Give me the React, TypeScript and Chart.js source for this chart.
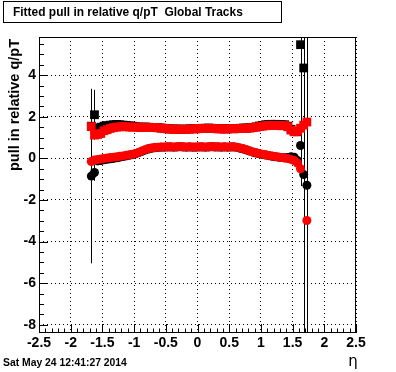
import { useEffect, useRef } from 'react';
import { Chart, registerables } from 'chart.js';

Chart.register(...registerables);

// ---- data ----
const ETA = [
  -1.675, -1.625, -1.575, -1.525, -1.475, -1.425, -1.375, -1.325, -1.275, -1.225,
  -1.175, -1.125, -1.075, -1.025, -0.975, -0.925, -0.875, -0.825, -0.775, -0.725,
  -0.675, -0.625, -0.575, -0.525, -0.475, -0.425, -0.375, -0.325, -0.275, -0.225,
  -0.175, -0.125, -0.075, -0.025, 0.025, 0.075, 0.125, 0.175, 0.225, 0.275,
  0.325, 0.375, 0.425, 0.475, 0.525, 0.575, 0.625, 0.675, 0.725, 0.775,
  0.825, 0.875, 0.925, 0.975, 1.025, 1.075, 1.125, 1.175, 1.225, 1.275,
  1.325, 1.375, 1.425, 1.475, 1.525, 1.575, 1.625, 1.675, 1.725,
];

const BLACK_SIGMA = [
  1.55, 2.1, 1.45, 1.5, 1.55, 1.58, 1.6, 1.62, 1.63, 1.62,
  1.6, 1.59, 1.57, 1.55, 1.53, 1.51, 1.5, 1.51, 1.5, 1.49,
  1.49, 1.48, 1.46, 1.45, 1.43, 1.42, 1.41, 1.41, 1.41, 1.4,
  1.41, 1.42, 1.43, 1.43, 1.44, 1.45, 1.45, 1.46, 1.45, 1.44,
  1.43, 1.43, 1.42, 1.43, 1.44, 1.43, 1.44, 1.45, 1.46, 1.46,
  1.47, 1.49, 1.52, 1.56, 1.59, 1.62, 1.63, 1.64, 1.64, 1.63,
  1.62, 1.62, 1.55, 1.4, 1.3, 1.28, 5.47, 4.35, null,
];
const BLACK_SIGMA_ERR = [
  0.05, 1.2, 0.05, 0.04, 0.03, 0.03, 0.03, 0.03, 0.03, 0.03,
  0.03, 0.03, 0.03, 0.03, 0.03, 0.03, 0.03, 0.03, 0.03, 0.03,
  0.03, 0.03, 0.03, 0.03, 0.03, 0.03, 0.03, 0.03, 0.03, 0.03,
  0.03, 0.03, 0.03, 0.03, 0.03, 0.03, 0.03, 0.03, 0.03, 0.03,
  0.03, 0.03, 0.03, 0.03, 0.03, 0.03, 0.03, 0.03, 0.03, 0.03,
  0.03, 0.03, 0.03, 0.03, 0.03, 0.03, 0.03, 0.03, 0.03, 0.03,
  0.03, 0.03, 0.03, 0.04, 0.05, 0.08, 6.8, 15, 0,
];
const BLACK_MEAN = [
  -0.85, -0.68, -0.12, -0.1, -0.07, -0.04, -0.02, 0.0, 0.03, 0.06,
  0.09, 0.12, 0.15, 0.18, 0.22, 0.28, 0.34, 0.4, 0.45, 0.49,
  0.51, 0.53, 0.54, 0.54, 0.55, 0.55, 0.54, 0.55, 0.56, 0.55,
  0.54, 0.55, 0.54, 0.54, 0.55, 0.55, 0.54, 0.55, 0.56, 0.55,
  0.55, 0.54, 0.55, 0.54, 0.55, 0.55, 0.53, 0.49, 0.45, 0.4,
  0.35, 0.3, 0.26, 0.22, 0.19, 0.16, 0.13, 0.1, 0.08, 0.06,
  0.04, 0.03, 0.04, 0.08, 0.06, -0.1, 0.62, -0.78, -1.29,
];
const BLACK_MEAN_ERR = [
  4.2, 0.4, 0.05, 0.04, 0.03, 0.03, 0.03, 0.03, 0.03, 0.03,
  0.03, 0.03, 0.03, 0.03, 0.03, 0.03, 0.03, 0.03, 0.03, 0.03,
  0.03, 0.03, 0.03, 0.03, 0.03, 0.03, 0.03, 0.03, 0.03, 0.03,
  0.03, 0.03, 0.03, 0.03, 0.03, 0.03, 0.03, 0.03, 0.03, 0.03,
  0.03, 0.03, 0.03, 0.03, 0.03, 0.03, 0.03, 0.03, 0.03, 0.03,
  0.03, 0.03, 0.03, 0.03, 0.03, 0.03, 0.03, 0.03, 0.03, 0.03,
  0.03, 0.03, 0.03, 0.04, 0.05, 0.08, 0.3, 0.5, 15,
];
const RED_SIGMA = [
  1.53, 1.12, 1.15, 1.2, 1.33, 1.38, 1.44, 1.48, 1.5, 1.52,
  1.53, 1.52, 1.51, 1.5, 1.51, 1.5, 1.49, 1.5, 1.49, 1.48,
  1.48, 1.47, 1.46, 1.44, 1.42, 1.41, 1.4, 1.41, 1.4, 1.39,
  1.4, 1.41, 1.42, 1.42, 1.43, 1.44, 1.44, 1.45, 1.44, 1.43,
  1.42, 1.42, 1.41, 1.42, 1.43, 1.42, 1.43, 1.44, 1.45, 1.45,
  1.46, 1.48, 1.5, 1.53, 1.55, 1.57, 1.58, 1.59, 1.58, 1.58,
  1.57, 1.58, 1.52, 1.36, 1.28, 1.3, 1.45, 1.6, 1.75,
];
const RED_MEAN = [
  -0.15, -0.08, -0.05, -0.03, 0.0, 0.02, 0.04, 0.06, 0.08, 0.1,
  0.12, 0.15, 0.17, 0.2, 0.24, 0.3, 0.36, 0.42, 0.47, 0.5,
  0.52, 0.54, 0.55, 0.55, 0.56, 0.56, 0.55, 0.56, 0.57, 0.56,
  0.55, 0.56, 0.55, 0.55, 0.56, 0.56, 0.55, 0.56, 0.57, 0.56,
  0.56, 0.55, 0.56, 0.55, 0.56, 0.56, 0.54, 0.5, 0.46, 0.41,
  0.36, 0.31, 0.27, 0.23, 0.2, 0.17, 0.14, 0.12, 0.09, 0.07,
  0.04, 0.02, -0.01, -0.05, -0.1, -0.22, -0.5, null, -2.99,
];

const X_MIN = -2.5;
const X_MAX = 2.5;
const Y_MIN = -8.4;
const Y_MAX = 5.84;

const TITLE = 'Fitted pull in relative q/pT  Global Tracks';
const Y_TITLE = 'pull in relative q/pT';
const X_TITLE = 'η';
const DATE = 'Sat May 24 12:41:27 2014';

const FONT = '"Liberation Sans", Arial, Helvetica, sans-serif';

function points(vals: (number | null)[], errs?: number[]) {
  const out: any[] = [];
  ETA.forEach((x, i) => {
    const y = vals[i];
    if (y === null || y === undefined) return;
    out.push({ x, y, err: errs ? errs[i] : 0 });
  });
  return out;
}

function fitFont(ctx: CanvasRenderingContext2D, text: string, width: number, weight: string) {
  ctx.font = `${weight} 20px ${FONT}`;
  const w = ctx.measureText(text).width;
  const s = (20 * width) / w;
  return `${weight} ${s.toFixed(2)}px ${FONT}`;
}

const fmt = (v: any) => String(Math.round(Number(v) * 10) / 10);

const rootPlugin = {
  id: 'rootStyle',
  beforeDraw(chart: any) {
    const ctx = chart.ctx;
    ctx.save();
    ctx.fillStyle = '#ffffff';
    ctx.fillRect(0, 0, chart.width, chart.height);
    ctx.restore();
  },
  beforeDatasetsDraw(chart: any) {
    const ctx = chart.ctx;
    const a = chart.chartArea;
    const xs = chart.scales.x;
    const ys = chart.scales.y;
    ctx.save();
    ctx.beginPath();
    ctx.rect(a.left, a.top, a.right - a.left, a.bottom - a.top);
    ctx.clip();
    ctx.lineWidth = 1;
    chart.data.datasets.forEach((ds: any) => {
      ctx.strokeStyle = ds.backgroundColor;
      ds.data.forEach((p: any) => {
        if (!p.err) return;
        const px = Math.round(xs.getPixelForValue(p.x)) + 0.5;
        const y1 = ys.getPixelForValue(p.y + p.err);
        const y2 = ys.getPixelForValue(p.y - p.err);
        ctx.beginPath();
        ctx.moveTo(px, y1);
        ctx.lineTo(px, y2);
        ctx.stroke();
      });
    });
    ctx.restore();
  },
  afterDatasetsDraw(chart: any) {
    const ctx = chart.ctx;
    const a = chart.chartArea;
    const xs = chart.scales.x;
    const ys = chart.scales.y;
    ctx.save();
    ctx.strokeStyle = '#000';
    ctx.lineWidth = 1;
    ctx.setLineDash([]);
    ctx.strokeRect(a.left + 0.5, a.top + 0.5, a.right - a.left - 1, a.bottom - a.top - 1);
    ctx.beginPath();
    for (let k = Math.ceil(Y_MIN / 0.5); k * 0.5 <= Y_MAX; k++) {
      const v = k * 0.5;
      const py = Math.round(ys.getPixelForValue(v)) + 0.5;
      const len = k % 4 === 0 ? 9 : 5;
      ctx.moveTo(a.left, py);
      ctx.lineTo(a.left + len, py);
    }
    for (let k = Math.ceil(X_MIN / 0.1 - 1e-6); k * 0.1 <= X_MAX + 1e-6; k++) {
      const v = k * 0.1;
      const px = Math.round(xs.getPixelForValue(v)) + 0.5;
      const len = k % 5 === 0 ? 9 : 4.5;
      ctx.moveTo(px, a.bottom);
      ctx.lineTo(px, a.bottom - len);
    }
    ctx.stroke();
    ctx.restore();
  },
  afterDraw(chart: any) {
    const ctx = chart.ctx;
    ctx.save();
    ctx.lineWidth = 1;
    ctx.strokeStyle = '#000';
    ctx.fillStyle = '#fff';
    ctx.fillRect(3.5, 1.5, 278, 21);
    ctx.strokeRect(3.5, 1.5, 278, 21);
    ctx.fillStyle = '#000';
    ctx.font = fitFont(ctx, TITLE, 230, 'bold');
    ctx.textAlign = 'left';
    ctx.textBaseline = 'middle';
    ctx.fillText(TITLE, 13, 12.5);
    ctx.font = fitFont(ctx, DATE, 124, 'bold');
    ctx.fillText(DATE, 3, 363.5);
    ctx.font = `15px "DejaVu Sans", ${FONT}`;
    ctx.textAlign = 'center';
    ctx.fillText(X_TITLE, 353, 362);
    ctx.translate(15, 39);
    ctx.rotate(-Math.PI / 2);
    ctx.font = fitFont(ctx, Y_TITLE, 132, 'bold');
    ctx.textAlign = 'right';
    ctx.textBaseline = 'middle';
    ctx.fillText(Y_TITLE, 0, 0);
    ctx.restore();
  },
};

export default function App() {
  const ref = useRef<HTMLCanvasElement>(null);
  useEffect(() => {
    document.body.style.margin = '0';
    const canvas = ref.current;
    if (!canvas) return;
    const tickFont = { family: FONT, size: 14, weight: 'bold' as const };
    const SQ = 6.2;
    const CI = 4.5;
    const chart = new Chart(canvas, {
      type: 'scatter',
      data: {
        datasets: [
          { label: 'red mean', data: points(RED_MEAN), backgroundColor: '#ff0000', pointStyle: 'circle', pointRadius: CI, borderWidth: 0, order: 0 },
          { label: 'red sigma', data: points(RED_SIGMA), backgroundColor: '#ff0000', pointStyle: 'rect', pointRadius: SQ, borderWidth: 0, order: 1 },
          { label: 'black mean', data: points(BLACK_MEAN, BLACK_MEAN_ERR), backgroundColor: '#000000', pointStyle: 'circle', pointRadius: CI, borderWidth: 0, order: 2 },
          { label: 'black sigma', data: points(BLACK_SIGMA, BLACK_SIGMA_ERR), backgroundColor: '#000000', pointStyle: 'rect', pointRadius: SQ, borderWidth: 0, order: 3 },
        ] as any,
      },
      options: {
        responsive: false,
        animation: false,
        devicePixelRatio: 1,
        layout: { padding: { top: 37, left: 0, right: 40, bottom: 0 } },
        plugins: {
          legend: { display: false },
          tooltip: { enabled: false },
          title: { display: false },
        },
        scales: {
          x: {
            type: 'linear',
            min: X_MIN,
            max: X_MAX,
            afterFit: (s: any) => { s.height = 39; },
            grid: { color: '#000', lineWidth: 1, drawTicks: false },
            border: { display: false, dash: [1, 3] },
            ticks: {
              stepSize: 0.5,
              autoSkip: false,
              maxRotation: 0,
              minRotation: 0,
              includeBounds: false,
              padding: 2,
              color: '#000',
              font: tickFont,
              callback: fmt,
            },
          },
          y: {
            type: 'linear',
            min: Y_MIN,
            max: Y_MAX,
            afterFit: (s: any) => { s.width = 39; },
            grid: { color: '#000', lineWidth: 1, drawTicks: false },
            border: { display: false, dash: [1, 3] },
            ticks: {
              stepSize: 2,
              includeBounds: false,
              padding: 3,
              color: '#000',
              font: tickFont,
              callback: fmt,
            },
          },
        },
      } as any,
      plugins: [rootPlugin],
    });
    return () => chart.destroy();
  }, []);
  return (
    <div style={{ width: 396, height: 372, position: 'relative' }}>
      <canvas ref={ref} width={396} height={372} style={{ display: 'block', width: 396, height: 372 }} />
    </div>
  );
}
